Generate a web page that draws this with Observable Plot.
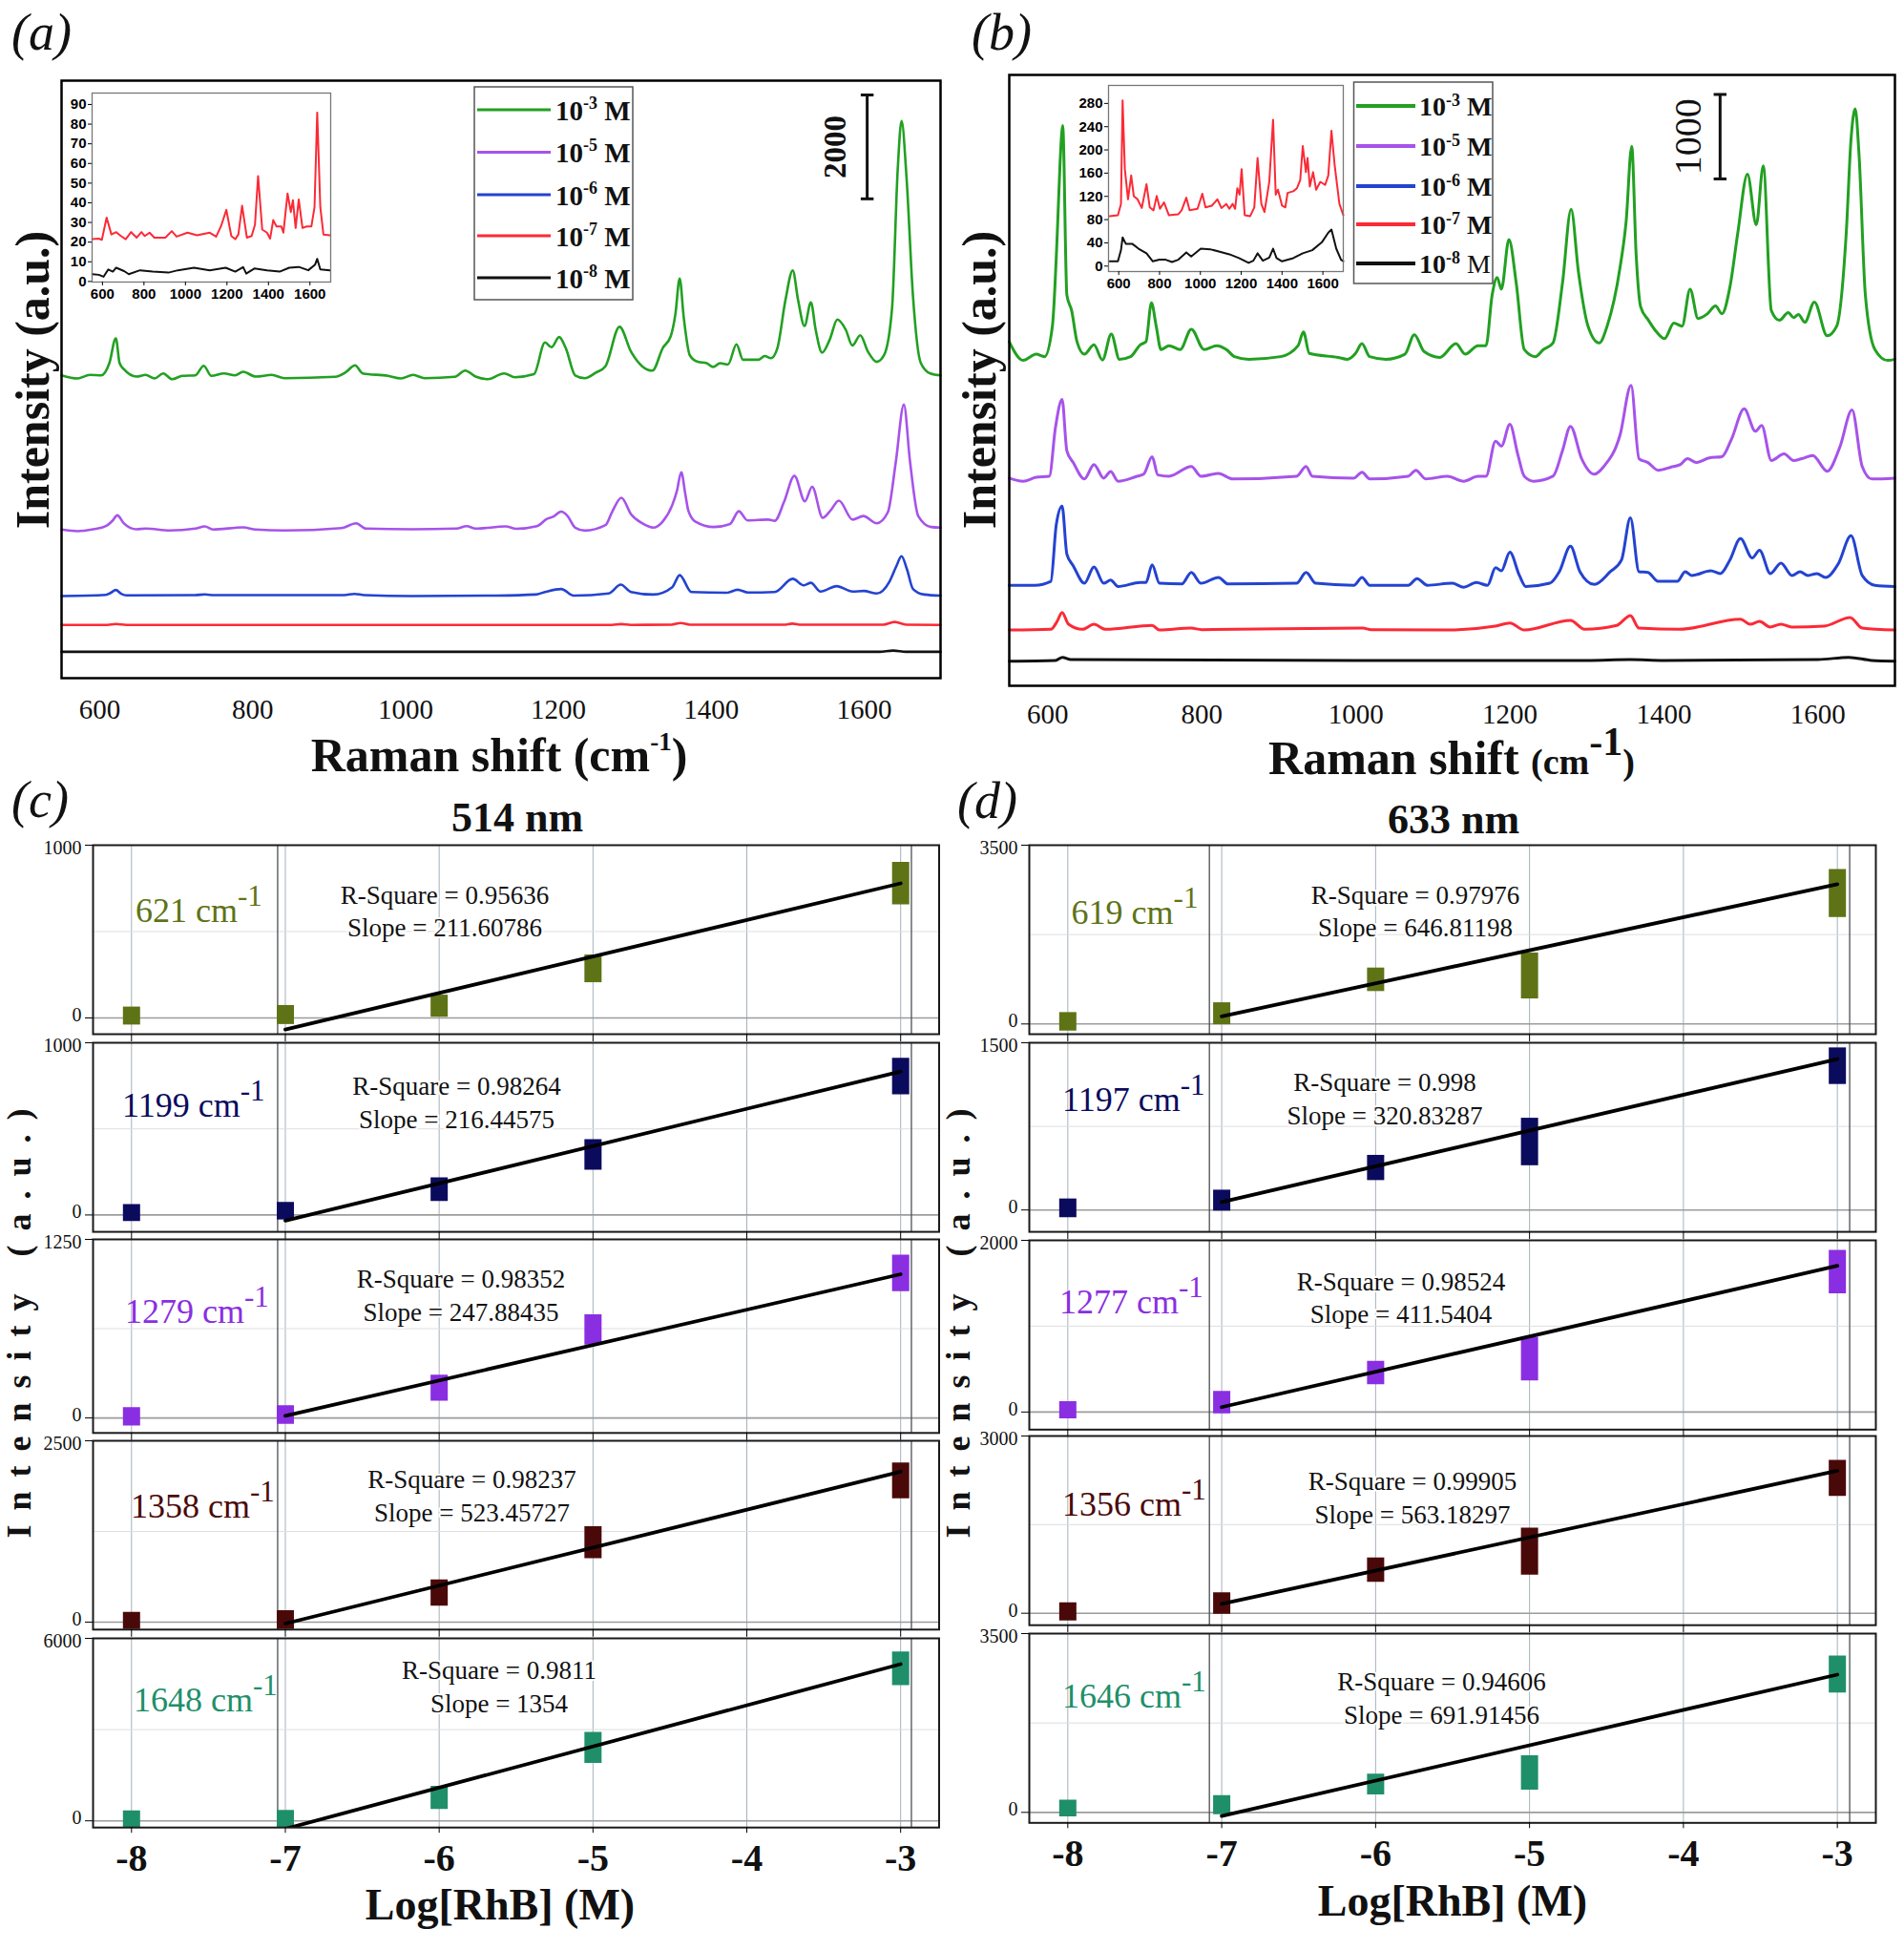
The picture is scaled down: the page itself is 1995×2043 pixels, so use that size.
<!DOCTYPE html>
<html><head><meta charset="utf-8">
<script src="https://cdn.jsdelivr.net/npm/d3@7"></script>
<script src="https://cdn.jsdelivr.net/npm/@observablehq/plot@0.6"></script>
<style>
body{margin:0;background:#fff;}
#fig{position:relative;width:1995px;height:2043px;overflow:hidden;background:#fff;}
#fig > svg{position:absolute;overflow:visible;}
</style></head><body><div id="fig"></div>
<script>
// ---------------- DATA ----------------
const concExponents = ["-3", "-5", "-6", "-7", "-8"];
const spectrumColors = ["#22a022", "#a653ea", "#2443d0", "#fb2a36", "#111111"];
const ramanTicks = [600, 800, 1000, 1200, 1400, 1600];

// Panel (a) 514 nm spectra, stacked intensities (a.u.)
const specA_1e3 = [[550,5832],[571,5771],[587,5839],[602,5832],[612.5,6065],[621,6543],[626,6065],[632,5942],[648,5808],[660,5839],[671.7,5771],[683,5869],[694.6,5758],[708,5821],[725,5832],[736,6016],[746,5821],[762.5,5869],[777,5832],[787.5,5900],[804,5808],[825,5839],[841.6,5777],[908,5803],[921,5882],[934,6023],[944,5869],[977,5821],[994,5771],[1010,5839],[1025,5777],[1064.6,5803],[1078,5924],[1091.6,5808],[1108,5758],[1129,5869],[1143,5795],[1168,5852],[1182.5,6464],[1191,6372],[1201,6569],[1209.6,6359],[1222,5830],[1234.6,5775],[1249,5882],[1261.6,6007],[1280,6766],[1295,6288],[1309.6,6007],[1323,5922],[1336.6,6359],[1347,6584],[1353,7000],[1358.7,7694],[1364,6950],[1372,6218],[1382.5,6091],[1394,6065],[1402.5,5992],[1411.6,6065],[1422,6042],[1433,6429],[1441.6,6133],[1461.6,6133],[1470,6203],[1478,6161],[1486.6,6359],[1497,7273],[1506.6,7850],[1513.7,7273],[1522,6782],[1530.4,7238],[1536.6,6709],[1545,6268],[1555.4,6534],[1565,6907],[1576,6709],[1584.6,6407],[1595,6604],[1605,6288],[1616.6,6091],[1626,6218],[1636.6,7131],[1644,9806],[1649,10734],[1655.4,9664],[1664,7343],[1674,6076],[1686.6,5867],[1700,5830]];
const specA_1e5 = [[550,2862],[571,2831],[591.6,2867],[608,2928],[616.7,3033],[623,3137],[631,2990],[648,2867],[660,2880],[691.6,2843],[725,2880],[737.5,2922],[748,2862],[787.5,2904],[804,2862],[841.6,2843],[916.6,2891],[935.4,2983],[948,2880],[1008,2867],[1066.6,2880],[1080,2928],[1091.6,2880],[1131,2922],[1145,2876],[1172,2926],[1185,3066],[1193,3108],[1203.7,3207],[1212,3123],[1222,2899],[1234.6,2842],[1261.6,2946],[1270,3193],[1282.5,3474],[1295,3158],[1309.6,2983],[1324,2899],[1336.6,3018],[1349,3334],[1355,3600],[1360.8,3966],[1366,3550],[1370,3228],[1379,3018],[1403.6,2911],[1424.5,2968],[1436,3215],[1447.5,3038],[1474.6,3053],[1483,3031],[1495.5,3404],[1508.8,3897],[1522.5,3404],[1532,3685],[1545.8,3088],[1556,3228],[1567,3419],[1585,3053],[1599,3123],[1616.6,2983],[1631,3193],[1641.6,4178],[1652,5268],[1660,4178],[1670.8,3123],[1687.5,2911],[1700,2899]];
const specA_1e6 = [[550,1581],[608,1605],[614,1640],[621,1697],[628,1625],[635,1594],[725,1600],[737.5,1612],[750,1598],[920,1600],[933,1623],[946,1600],[1008,1581],[1120,1590],[1170,1610],[1182.5,1660],[1203.7,1717],[1220,1590],[1266,1632],[1281.6,1801],[1295,1660],[1324,1610],[1349,1752],[1358.7,1983],[1374,1660],[1420,1645],[1434.6,1702],[1448,1650],[1483,1660],[1506.6,1913],[1521,1787],[1530.4,1836],[1543,1667],[1564,1772],[1585,1667],[1599.6,1680],[1616.6,1632],[1633,1856],[1642,2150],[1649,2349],[1656,2100],[1664,1717],[1678.5,1610],[1700,1590]];
const specA_1e7 = [[550,1024],[610,1026],[621,1042],[635,1026],[1270,1026],[1282,1040],[1295,1026],[1348,1030],[1360,1062],[1372,1030],[1495,1030],[1506,1050],[1518,1030],[1625,1030],[1640,1083],[1655,1030],[1700,1024]];
const specA_1e8 = [[550,507],[1620,507],[1638,531],[1655,507],[1700,507]];
const scaleBarA = {x: 1604, y: 9230, length: 2000};

// Panel (b) 633 nm spectra, stacked intensities (a.u.)
const specB_1e3 = [[550,4073],[568,3852],[585,3926],[595.8,3897],[606,4258],[612.4,5364],[616,6200],[619.4,6633],[624.8,4626],[631,4442],[638,4073],[647.6,3926],[660,4036],[671,3857],[682.5,4165],[693,3866],[707.6,3897],[720,4036],[727.5,4073],[734.6,4535],[740.8,4258],[747,3981],[757.4,4027],[772,3981],[786.4,4221],[803,3981],[819.6,4027],[832,3981],[842.4,3897],[861,3866],[902.4,3897],[925,4027],[932,4189],[939.6,3935],[977,3888],[989,3866],[999.6,3935],[1007.9,4050],[1018,3897],[1039,3866],[1063.7,3926],[1076,4156],[1088.6,3957],[1109,3888],[1130,4050],[1142,3926],[1158.6,4027],[1169,4027],[1177,4626],[1183.5,4834],[1189,4696],[1198.8,5282],[1208.3,4765],[1218.7,3981],[1233,3897],[1243.5,3981],[1256,4059],[1268.3,4765],[1279.5,5641],[1289,4903],[1301.5,4258],[1316,4059],[1326.3,4258],[1343,4949],[1351,5500],[1358.2,6388],[1364,5100],[1369.8,4488],[1380,4327],[1390.5,4189],[1400.8,4110],[1413,4294],[1423.6,4258],[1434,4696],[1444.3,4349],[1456.7,4405],[1467,4497],[1475.4,4405],[1485.7,4719],[1496,5364],[1508.5,6057],[1520,5457],[1529,6157],[1539.5,4442],[1550,4327],[1561.5,4419],[1568.5,4360],[1574.7,4396],[1583,4304],[1595.4,4544],[1612,4143],[1624.4,4258],[1636.8,5364],[1643,6472],[1648.4,6831],[1653.4,6287],[1661.6,4626],[1674,3981],[1690.6,3852],[1700,3866]];
const specB_1e5 = [[550,2459],[568,2422],[585,2468],[602,2481],[610,3059],[618.6,3390],[624.8,2782],[633,2643],[647.6,2449],[660,2620],[672.6,2459],[681.7,2537],[691.3,2422],[716,2481],[724.5,2505],[735.5,2712],[743,2496],[757.4,2481],[786.4,2597],[799,2481],[821.6,2514],[840,2449],[923,2481],[935.4,2597],[943.6,2481],[997.5,2459],[1008,2528],[1018,2449],[1068,2481],[1078,2552],[1090.6,2449],[1119,2481],[1140,2422],[1158.6,2481],[1169,2481],[1181.4,2897],[1189,2837],[1200,3095],[1210.4,2736],[1218.7,2481],[1231,2422],[1256,2481],[1268.3,2782],[1278.7,3072],[1293.2,2689],[1309.7,2505],[1322,2597],[1343,2966],[1357.4,3556],[1367.7,2689],[1379.3,2643],[1392.5,2552],[1409,2588],[1421.5,2620],[1430.6,2689],[1442,2643],[1458.8,2698],[1475.3,2712],[1487.8,2920],[1504.3,3279],[1518.8,3013],[1527,3082],[1539.5,2667],[1556,2745],[1568.5,2667],[1579,2689],[1593.3,2727],[1612,2541],[1628.5,2827],[1644.3,3266],[1657.5,2597],[1670,2449],[1700,2459]];
const specB_1e6 = [[550,1190],[583,1190],[604,1236],[611,1905],[618.6,2127],[624.8,1559],[633,1422],[647.6,1214],[660,1407],[672.6,1214],[681.7,1251],[691.3,1176],[720,1223],[727.5,1223],[735.5,1431],[745,1214],[774,1205],[786.4,1342],[799,1214],[821.6,1283],[834,1205],[923,1214],[935.4,1342],[948,1214],[997.5,1190],[1008,1283],[1018,1190],[1068,1190],[1079.5,1269],[1092.8,1190],[1125,1214],[1140,1167],[1156.5,1223],[1171,1190],[1181.4,1398],[1189,1361],[1200,1582],[1212.4,1306],[1220.7,1176],[1251.8,1214],[1264.2,1351],[1278.7,1652],[1291,1351],[1309.7,1200],[1330.4,1351],[1345,1490],[1356.5,1989],[1367.7,1351],[1379.3,1342],[1392.5,1236],[1417.4,1236],[1427.7,1351],[1436,1306],[1460.9,1361],[1473.3,1329],[1485.7,1490],[1499.4,1744],[1514.7,1513],[1524.2,1606],[1538.3,1329],[1552,1453],[1566.4,1306],[1576.8,1351],[1587.1,1306],[1598.7,1329],[1609.9,1283],[1626.4,1444],[1643,1776],[1657.5,1306],[1674,1190],[1700,1176]];
const specB_1e7 = [[550,660],[604,669],[612,760],[618.6,868],[627,729],[645,669],[660,729],[675,669],[735.5,715],[745,660],[786,683],[800,665],[1009,683],[1020,665],[1119,660],[1181,706],[1200,744],[1218.7,660],[1278.7,775],[1297,669],[1338.7,715],[1356.5,831],[1367.7,683],[1420,669],[1499.4,789],[1512,729],[1524.2,762],[1538,696],[1552,729],[1566,696],[1607.8,706],[1641.8,808],[1657.5,683],[1700,660]];
const specB_1e8 = [[550,292],[610,300],[619,337],[630,310],[1000,300],[1300,300],[1356,310],[1400,300],[1600,310],[1640,337],[1670,300],[1700,292]];
const scaleBarB = {x: 1473, y: 6001, length: 1000};

// Insets (low concentrations, 10^-7 red and 10^-8 black)
const insetA_1e7 = [[551,21.5],[582,21.8],[597,21.2],[620,32.5],[643,23.9],[666,25.1],[689,23.1],[712,21.5],[738,25.1],[765,22.3],[788,25.1],[804,23.1],[827,24.8],[850,22.3],[903,22.3],[934,25.6],[957,22.8],[1010,24.8],[1056,23.5],[1117,24.8],[1148,22.8],[1171,28],[1197,36.4],[1221,23.1],[1240,21.5],[1255,23.9],[1273,38.5],[1296,22.3],[1319,23.1],[1335,28.8],[1350,53.6],[1370,26.4],[1393,24.8],[1408,21.8],[1423,31.2],[1439,28],[1462,28],[1472,24.8],[1492,44.7],[1508,35.3],[1518,41.3],[1531,27.2],[1546,41.7],[1564,27.2],[1584,28],[1607,28],[1622,37.7],[1635,85.9],[1650,37.7],[1665,23.9],[1696,23.5]];
const insetA_1e8 = [[551,3.7],[582,3.4],[605,2.4],[628,6.1],[650,5],[666,7],[704,5.3],[727,3.7],[781,5.7],[842,5],[918,4.5],[964,5.7],[1041,7],[1117,5.7],[1194,7],[1240,5],[1278,7.3],[1293,4],[1332,6.6],[1393,5.7],[1454,5],[1500,7],[1546,7.4],[1592,5.7],[1625,8.6],[1635,11.5],[1650,6.1],[1696,5.7]];
const insetATicks = [0,10,20,30,40,50,60,70,80,90];
const insetB_1e7 = [[556,86],[596,87.7],[611,107],[619,285],[630,167],[645.5,115],[661,156],[673.7,120.6],[692,115],[713,100],[736,141],[752,101],[770.5,96],[786,120.6],[802,98.6],[822,109.6],[845.5,87.7],[892,89.3],[908,96],[931,117.8],[947,96],[986,98.6],[1009.5,124.4],[1025,101],[1056,104],[1083,115],[1103,100],[1127,107],[1142,98.6],[1158,107],[1170,98.6],[1181,134],[1192,123],[1202,167],[1217,87.7],[1244,86],[1264,101],[1280,186],[1298.5,107],[1314,93],[1337.5,145],[1356,252],[1369,123],[1380,131.5],[1400,104],[1416,101],[1427,126],[1455,128.8],[1473,134],[1489,148],[1501.5,206.6],[1517,161.7],[1525,186],[1536,137],[1552,161.7],[1567,131.5],[1587.5,145],[1611,139.7],[1626.5,156],[1642,233],[1658,172.6],[1681,107],[1700,87.7]];
const insetB_1e8 = [[556,8.2],[596,8.2],[611,27.4],[619,49.3],[634.6,38.4],[666,38.4],[697,30],[736,22],[767,8.2],[799,11],[830,11],[861,7.1],[892,11],[931,23.6],[955,16.4],[1002,30],[1048,29],[1095,24.7],[1142,20.3],[1189,13.7],[1236,5.5],[1259.5,9.3],[1280,22],[1306,9.3],[1337.5,14.8],[1356,30],[1373,13.7],[1400,8.2],[1455,13.7],[1501.5,22],[1548,27.4],[1595,41],[1626.5,57.5],[1642,63],[1665.5,30],[1689,11],[1700,8.2]];
const insetBTicks = [0,40,80,120,160,200,240,280];

// Panels (c)/(d): calibration, log concentration vs peak intensity
const logConc = [-8, -7, -6, -5, -3];
const logTicks = [-8, -7, -6, -5, -4, -3];
const breakLinesC = [-7.05, -2.93];
const breakLinesD = [-7.08, -2.92];

const peaks514 = ["621", "1199", "1279", "1358", "1648"];
const means514 = [[11,17,68,284,777],[11,22,147,349,804],[8,20,209,616,1012],[16,26,401,1095,1947],[40,60,753,2397,5002]];
const errs514 = [[52,55,64,80,123],[49,51,68,89,106],[65,65,91,106,127],[118,130,180,221,247],[290,282,380,508,552]];
const yMax514 = [1000, 1000, 1250, 2500, 6000];
const yMin514 = [-94, -98, -105, -103, -220];
const r2_514 = [0.95636, 0.98264, 0.98352, 0.98237, 0.9811];
const slope514 = [211.60786, 216.44575, 247.88435, 523.45727, 1354];
const fitAtMinus3_514 = [779, 833, 1006, 2074, 5153];

const peaks633 = ["619", "1197", "1277", "1356", "1646"];
const means633 = [[42,200,865,940,2554],[15,84,377,610,1290],[21,110,454,617,1631],[23,165,730,1042,2283],[75,142,546,774,2700]];
const errs633 = [[181,215,230,450,470],[84,94,113,213,164],[100,130,137,255,253],[153,183,205,397,306],[164,187,202,336,362]];
const yMax633 = [3500, 1500, 2000, 3000, 3500];
const yMin633 = [-200, -196, -205, -202, -205];
const r2_633 = [0.97976, 0.998, 0.98524, 0.99905, 0.94606];
const slope633 = [646.81198, 320.83287, 411.5404, 563.18297, 691.91456];
const fitAtMinus3_633 = [2736, 1354, 1703, 2411, 2697];

const peakColors = ["#5e7316", "#0b0b5e", "#8a2ee2", "#4a0909", "#1f8f6a"];

// ---------------- DRAWING ----------------
const serif = "'Liberation Serif', 'Times New Roman', serif";
const sans = "'Liberation Sans', Arial, sans-serif";
const fig = document.getElementById("fig");
function place(svg, left, top) {
  svg.style.position = "absolute";
  svg.style.left = left + "px";
  svg.style.top = top + "px";
  svg.style.overflow = "visible";
  svg.style.maxWidth = "none";
  fig.appendChild(svg);
}
const hline = {draw(ctx, size) { const w = Math.sqrt(size); ctx.moveTo(-w, 0); ctx.lineTo(w, 0); }};
const X = d => d[0], Y = d => d[1];

function mainPlot(spectra, bar, cfg) {
  return Plot.plot({
    width: cfg.width, height: cfg.height,
    marginLeft: cfg.ml, marginRight: cfg.mr, marginTop: cfg.mt, marginBottom: cfg.mb,
    x: {domain: [550, 1700]},
    y: {domain: cfg.yDomain, axis: null},
    style: {overflow: "visible", background: "transparent"},
    marks: [
      ...spectra.map((s, i) => Plot.line(s, {x: X, y: Y, stroke: spectrumColors[i], strokeWidth: cfg.sw, curve: "monotone-x"})),
      Plot.ruleX([bar], {x: "x", y1: "y", y2: d => d.y + d.length, stroke: "#111", strokeWidth: 3}),
      Plot.dot([bar.y, bar.y + bar.length], {x: () => bar.x, y: d => d, symbol: hline, r: 3.8, fill: "none", stroke: "#111", strokeWidth: 3}),
      Plot.text([bar], {x: "x", y: d => d.y + d.length / 2, text: d => String(d.length), rotate: -90, dx: -33, fontSize: cfg.barFont, fontWeight: cfg.barWeight, fontFamily: serif, fill: "#111"}),
      Plot.frame({stroke: "#000", strokeWidth: 2.5}),
      Plot.axisX({ticks: ramanTicks, tickSize: 0, tickPadding: cfg.tp, fontSize: 29, fontFamily: serif, label: null, tickFormat: d => String(d), fill: "#111"})
    ]
  });
}
place(mainPlot([specA_1e3, specA_1e5, specA_1e6, specA_1e7, specA_1e8], scaleBarA,
  {width: 1000, height: 830, ml: 64, mr: 15, mt: 84, mb: 120, yDomain: [0, 11506], sw: 2.6, barFont: 33, barWeight: "bold", tp: 22}), 0, 0);
place(mainPlot([specB_1e3, specB_1e5, specB_1e6, specB_1e7, specB_1e8], scaleBarB,
  {width: 1000, height: 838, ml: 62, mr: 10, mt: 78, mb: 120, yDomain: [0, 7232], sw: 3, barFont: 40, barWeight: "normal", tp: 19}), 995, 0);

function insetPlot(red, black, ticks, cfg) {
  return Plot.plot({
    width: cfg.width, height: cfg.height,
    marginLeft: cfg.ml, marginRight: cfg.mr, marginTop: cfg.mt, marginBottom: cfg.mb,
    x: {domain: [550, 1700]},
    y: {domain: cfg.yDomain},
    style: {overflow: "visible", background: "transparent"},
    marks: [
      Plot.frame({fill: "white", stroke: "none"}),
      Plot.line(red, {x: X, y: Y, stroke: spectrumColors[3], strokeWidth: 2}),
      Plot.line(black, {x: X, y: Y, stroke: "#111", strokeWidth: 2}),
      Plot.frame({stroke: "#777", strokeWidth: 1.3}),
      Plot.axisX({ticks: ramanTicks, tickSize: 4, tickPadding: 3, fontSize: 15, fontWeight: "bold", fontFamily: sans, label: null, tickFormat: d => String(d)}),
      Plot.axisY({ticks: ticks, tickSize: 4, tickPadding: 2, fontSize: 15, fontWeight: "bold", fontFamily: sans, label: null, tickFormat: d => String(d)})
    ]
  });
}
place(insetPlot(insetA_1e7, insetA_1e8, insetATicks, {width: 320, height: 250, ml: 56, mr: 14, mt: 17, mb: 35, yDomain: [-0.3, 95.8]}), 40, 80);
place(insetPlot(insetB_1e7, insetB_1e8, insetBTicks, {width: 320, height: 250, ml: 61, mr: 13, mt: 19, mb: 36, yDomain: [-9.4, 311]}), 1100, 70);

function calibPlot(k, set, frame, left, ml, mr, last) {
  const [top, bottom] = frame;
  const mt = 16, mb = last ? 70 : 10;
  const pts = logConc.map((x, j) => ({x, y: set.means[k][j], e: set.errs[k][j]}));
  const s = set.slopes[k], y3 = set.fitAt[k];
  const fit = [{x: -7, y: y3 - 4 * s}, {x: -3, y: y3}];
  const yTickText = {tickSize: 0, tickPadding: 12, fontSize: 20, fontFamily: serif, label: null, tickFormat: d => String(d), fill: "#111"};
  const svg = Plot.plot({
    width: 1000, height: bottom - top + mt + mb,
    marginLeft: ml, marginRight: mr, marginTop: mt, marginBottom: mb,
    x: {domain: [-8.25, -2.75]},
    y: {domain: [set.yMin[k], set.yMax[k]]},
    style: {overflow: "visible", background: "transparent"},
    marks: [
      Plot.ruleX(logTicks, {stroke: "#8796a3", strokeOpacity: 0.75, strokeWidth: 1}),
      Plot.ruleY([set.yMax[k] / 2], {stroke: "#dedede", strokeWidth: 1}),
      Plot.ruleY([0], {stroke: "#9c9c9c", strokeWidth: 1.6}),
      Plot.ruleX(set.breaks, {stroke: "#4a4f55", strokeWidth: 1.3}),
      Plot.ruleX(pts, {x: "x", y1: d => d.y - d.e, y2: d => d.y + d.e, stroke: set.colors[k], strokeWidth: 18, clip: true}),
      Plot.line(fit, {x: "x", y: "y", stroke: "#000", strokeWidth: 3.8, clip: true}),
      Plot.frame({stroke: "#1a1a1a", strokeWidth: 2}),
      Plot.axisY({ticks: [0, set.yMax[k]], tickSize: 8, label: null, tickFormat: () => ""}),
      Plot.axisY({...yTickText, ticks: [0], dy: -3}),
      Plot.axisY({...yTickText, ticks: [set.yMax[k]], dy: 3}),
      last
        ? Plot.axisX({ticks: logTicks, tickSize: 6, tickPadding: 11, fontSize: 40, fontWeight: "bold", fontFamily: serif, label: null, tickFormat: d => String(d), fill: "#111"})
        : Plot.axisX({ticks: logTicks, tickSize: 8, label: null, tickFormat: () => ""})
    ]
  });
  place(svg, left, top - mt);
}
const set514 = {means: means514, errs: errs514, yMax: yMax514, yMin: yMin514, slopes: slope514, fitAt: fitAtMinus3_514, colors: peakColors, breaks: breakLinesC};
const set633 = {means: means633, errs: errs633, yMax: yMax633, yMin: yMin633, slopes: slope633, fitAt: fitAtMinus3_633, colors: peakColors, breaks: breakLinesD};
const framesC = [[885, 1083], [1091.6, 1289.7], [1297.6, 1500.4], [1509, 1706.8], [1715.8, 1914]];
const framesD = [[885, 1083], [1091.6, 1289.7], [1299, 1497.3], [1504.3, 1702.5], [1710.7, 1909]];
for (let k = 0; k < 5; k++) {
  calibPlot(k, set514, framesC[k], 0, 97, 16.5, k === 4);
  calibPlot(k, set633, framesD[k], 995, 83, 30, k === 4);
}

// ---------------- OVERLAY TEXT ----------------
const ov = d3.create("svg").attr("width", 1995).attr("height", 2043)
  .style("position", "absolute").style("left", "0px").style("top", "0px").style("pointer-events", "none");
function T(x, y, str, a = {}) {
  const t = ov.append("text").attr("x", x).attr("y", y).attr("font-family", serif).attr("fill", "#111");
  for (const k in a) t.attr(k, a[k]);
  if (str != null) t.text(str);
  return t;
}
function sp(t, str, a = {}) { const s = t.append("tspan"); for (const k in a) s.attr(k, a[k]); s.text(str); return s; }

// panel letters
[["(a)", 12, 52], ["(b)", 1018, 52], ["(c)", 12, 856], ["(d)", 1003, 857]].forEach(([s, x, y]) =>
  T(x, y, s, {"font-size": 54, "font-style": "italic"}));

// axis titles (a),(b)
{ const t = T(523, 808, null, {"font-size": 50, "font-weight": "bold", "text-anchor": "middle"});
  sp(t, "Raman shift (cm"); sp(t, "-1", {"font-size": 27, dy: -22}); sp(t, ")", {dy: 22}); }
{ const t = T(1521, 811, null, {"font-size": 50, "font-weight": "bold", "text-anchor": "middle"});
  sp(t, "Raman shift "); sp(t, "(cm", {"font-size": 38}); sp(t, "-1", {"font-size": 42, dy: -20}); sp(t, ")", {"font-size": 38, dy: 20}); }
T(0, 0, "Intensity (a.u.)", {"font-size": 50, "font-weight": "bold", "text-anchor": "middle", transform: "translate(51,398) rotate(-90)"});
T(0, 0, "Intensity (a.u.)", {"font-size": 50, "font-weight": "bold", "text-anchor": "middle", transform: "translate(1043,398) rotate(-90)"});

// legends
function legend(box, ys, lineX, textX, fs, supFs, supDy, lw, lastNormal) {
  ov.append("rect").attr("x", box[0]).attr("y", box[1]).attr("width", box[2]).attr("height", box[3])
    .attr("fill", "white").attr("stroke", "#555").attr("stroke-width", 1.5);
  concExponents.forEach((e, i) => {
    ov.append("line").attr("x1", lineX[0]).attr("x2", lineX[1]).attr("y1", ys[i]).attr("y2", ys[i])
      .attr("stroke", spectrumColors[i]).attr("stroke-width", lw);
    const t = T(textX, ys[i] + fs * 0.37, null, {"font-size": fs, "font-weight": "bold"});
    sp(t, "10"); sp(t, e, {"font-size": supFs, dy: supDy});
    sp(t, " M", {dy: -supDy, "font-weight": (lastNormal && i === 4) ? "normal" : "bold"});
  });
}
legend([497, 91, 166, 223], [115, 159.5, 204, 247, 291], [500, 577], 582, 29, 18, -12, 3, false);
legend([1418.5, 86, 145.5, 211], [111, 153, 195, 235, 276], [1421, 1483], 1487, 28, 18, -10, 4, true);

// calibration titles
T(542, 871, "514 nm", {"font-size": 44, "font-weight": "bold", "text-anchor": "middle"});
T(1523, 873, "633 nm", {"font-size": 44, "font-weight": "bold", "text-anchor": "middle"});
T(524, 2011, "Log[RhB] (M)", {"font-size": 46, "font-weight": "bold", "text-anchor": "middle"});
T(1522, 2007, "Log[RhB] (M)", {"font-size": 46, "font-weight": "bold", "text-anchor": "middle"});
T(0, 0, "Intensity (a.u.)", {"font-size": 36, "font-weight": "bold", "text-anchor": "middle", "letter-spacing": 15, transform: "translate(32,1379) rotate(-90)"});
T(0, 0, "Intensity (a.u.)", {"font-size": 36, "font-weight": "bold", "text-anchor": "middle", "letter-spacing": 15, transform: "translate(1016,1379) rotate(-90)"});

// per-peak annotations
const cLab = {x: [142, 128, 131, 137, 140], y: [965.5, 1170, 1386, 1590, 1793]};
const cFit = {x: [466, 478.5, 483, 494.5, 523], yr: [947, 1147, 1349, 1559, 1759], ys: [981, 1182, 1383.5, 1594, 1794]};
const dLab = {x: [1122.6, 1113, 1110, 1113, 1113], y: [968, 1164, 1375.5, 1588, 1789]};
const dFit = {x: [1483, 1451, 1468, 1480, 1510.5], yr: [946.5, 1143.4, 1351.8, 1561, 1771], ys: [981.3, 1177.8, 1386, 1596, 1806]};
function annotate(peaks, r2, slopes, lab, fitPos) {
  for (let k = 0; k < 5; k++) {
    const t = T(lab.x[k], lab.y[k], null, {"font-size": 36, fill: peakColors[k]});
    sp(t, peaks[k] + " cm"); sp(t, "-1", {"font-size": 31, dy: -17});
    const halo = {"font-size": 27, "text-anchor": "middle", stroke: "white", "stroke-width": 4, "paint-order": "stroke", "stroke-linejoin": "round"};
    T(fitPos.x[k], fitPos.yr[k], "R-Square = " + String(r2[k]), halo);
    T(fitPos.x[k], fitPos.ys[k], "Slope = " + String(slopes[k]), halo);
  }
}
annotate(peaks514, r2_514, slope514, cLab, cFit);
annotate(peaks633, r2_633, slope633, dLab, dFit);

fig.appendChild(ov.node());
</script></body></html>
